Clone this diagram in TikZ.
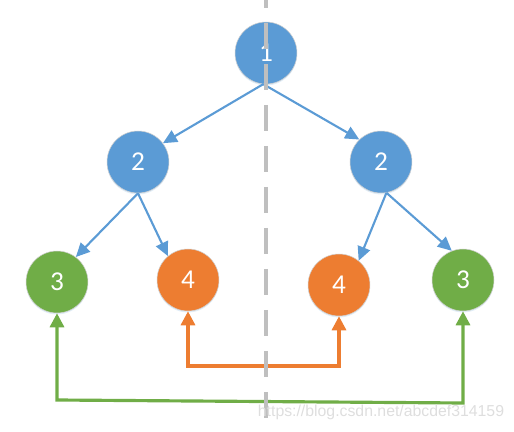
\documentclass[tikz,border=0pt]{standalone}
\usepackage{fontspec}
\setmainfont{Carlito}
\newfontfamily\markfont{Liberation Sans}
\usetikzlibrary{arrows.meta, shadows}

\definecolor{nodeblue}{HTML}{5B9BD5}
\definecolor{nodeorange}{HTML}{ED7D31}
\definecolor{nodegreen}{HTML}{70AD47}
\definecolor{axisgray}{HTML}{BFBFBF}

\begin{document}
\begin{tikzpicture}[x=0.02cm, y=-0.02cm,
        ball/.style = {circle, minimum size=1.24cm, inner sep=0pt, draw=black!18,
                       line width=0.3pt, text=white, font=\fontsize{15.5}{15.5}\selectfont,
                       drop shadow={shadow xshift=0pt, shadow yshift=-0.8pt,
                                    opacity=0.18, fill=nodeblue}},
        edge/.style = {draw=nodeblue, line width=1.2pt,
                       -{Triangle[length=0.28cm, width=0.26cm]}},
        swap/.style = {line width=1.8pt,
                       {Triangle[length=0.28cm, width=0.28cm]}-{Triangle[length=0.28cm, width=0.28cm]}}]
        \useasboundingbox (0,0) rectangle (514,432);

        % the tree
        \node[ball, fill=nodeblue]   (n1) at (266, 53)  {1};
        \node[ball, fill=nodeblue]   (l2) at (138,162)  {2};
        \node[ball, fill=nodeblue]   (r2) at (381,162)  {2};
        \node[ball, fill=nodegreen]  (l3) at ( 57,282)  {3};
        \node[ball, fill=nodeorange] (l4) at (188,280)  {4};
        \node[ball, fill=nodeorange] (r4) at (339,285)  {4};
        \node[ball, fill=nodegreen]  (r3) at (463,280)  {3};

        \draw[edge] (n1.-95) -- (l2.37);
        \draw[edge] (n1.-95) -- (r2.134);
        \draw[edge] (l2.-90) -- (l3.53);
        \draw[edge] (l2.-90) -- (l4.130);
        \draw[edge] (r2.-80) -- (r4.51);
        \draw[edge] (r2.-80) -- (r3.111);

        % mirrored pairs
        \coordinate (o1) at (188,366);
        \coordinate (g1) at ( 57,400);
        \coordinate (g2) at (463,403);
        \draw[swap, nodeorange] (l4.south) -- (o1) -| (r4.south);
        \draw[swap, nodegreen]  (l3.south) -- (g1) -- (g2) -- (r3.south);

        % axis of symmetry
        \draw[axisgray, line width=0.07cm, dash pattern=on 0.52cm off 0.3cm, dash phase=0.36cm]
            (266,0) -- (266,432);

        \node[font=\markfont\fontsize{9}{9}\selectfont, text=black!13] (mark) at (381,412)
            {https://blog.csdn.net/abcdef314159};
\end{tikzpicture}
\end{document}
